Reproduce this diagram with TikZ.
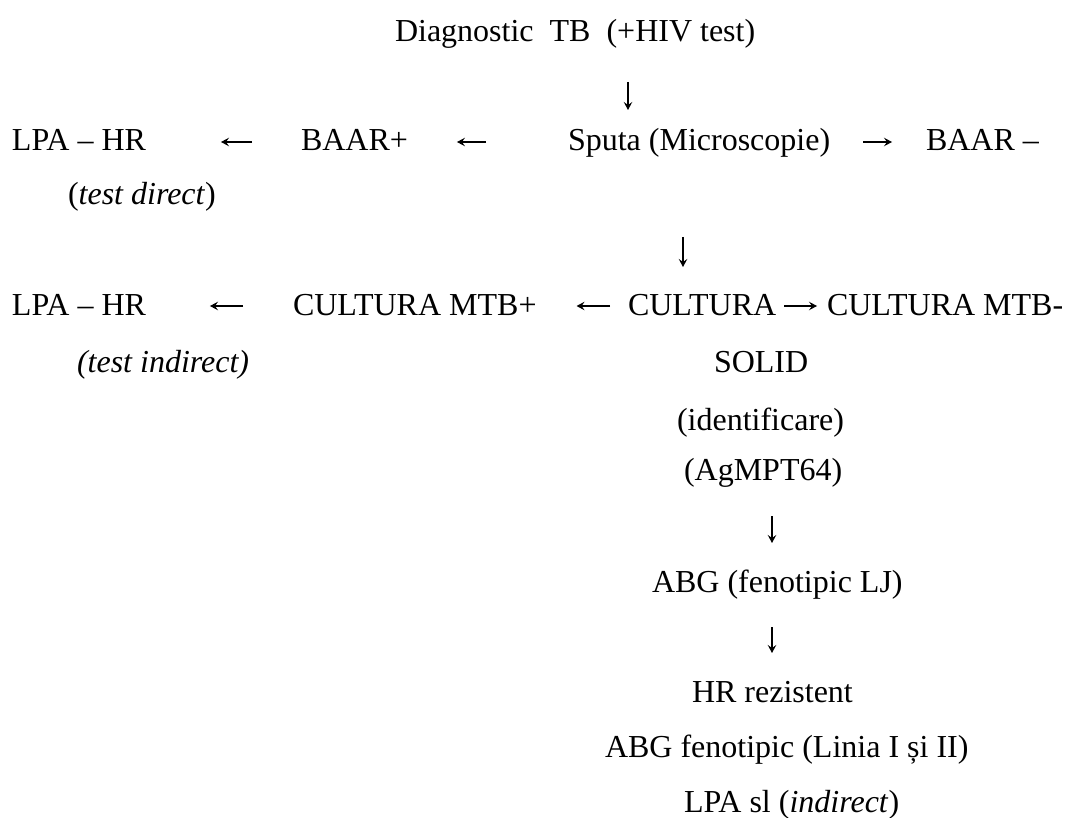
\documentclass[tikz,border=0pt]{standalone}
\usepackage{fontspec}
\setmainfont{Liberation Serif}
\usetikzlibrary{arrows.meta}
\tikzset{
  lbl/.style={anchor=base west, inner sep=0pt, outer sep=0pt, font=\fontsize{32}{38}\selectfont},
  arr/.style={-{Stealth[length=8pt,width=8.5pt,inset=3pt]}, line width=1.2pt}
}
\begin{document}
\begin{tikzpicture}[x=1pt,y=-1pt]
\fill[white] (0,0) rectangle (1065,818);
\useasboundingbox (0,0) rectangle (1065,818);
% text nodes
\node[lbl] (diag)   at (395,42)  {Diagnostic\ \ TB\ \ (+HIV test)};
\node[lbl] (lpa1)   at (12,151)  {LPA – HR};
\node[lbl] (bplus)  at (301,151) {BAAR+};
\node[lbl] (sputa)  at (568,151) {Sputa (Microscopie)};
\node[lbl] (bminus) at (926,151) {BAAR –};
\node[lbl] (tdir)   at (68,205)  {(\textit{test direct})};
\node[lbl] (lpa2)   at (12,315)  {LPA – HR};
\node[lbl] (cplus)  at (293,315) {CULTURA MTB+};
\node[lbl] (cult)   at (628,315) {CULTURA};
\node[lbl] (cminus) at (827,315) {CULTURA MTB-};
\node[lbl] (tind)   at (77,372)  {\textit{(test indirect)}};
\node[lbl] (solid)  at (714,372) {SOLID};
\node[lbl] (ident)  at (677,430) {(identificare)};
\node[lbl] (ag)     at (684,480) {(AgMPT64)};
\node[lbl] (abga)   at (652,592) {ABG (fenotipic LJ)};
\node[lbl] (hr)     at (692,702) {HR rezistent};
\node[lbl] (abgb)   at (605,757) {ABG fenotipic (Linia I și II)};
\node[lbl] (lpasl)  at (684,812) {LPA sl (\textit{indirect})};
% x positions of vertical connectors
\coordinate (vx1) at (628,0);
\coordinate (vx2) at (683,0);
\coordinate (vx3) at (772,0);
% vertical connectors
\draw[arr, shorten <=40pt, shorten >=41pt] (vx1 |- diag.base) -- (vx1 |- sputa.base);
\draw[arr, shorten <=86pt, shorten >=48pt] (vx2 |- sputa.base) -- (vx2 |- cult.base);
\draw[arr, shorten <=36pt, shorten >=49pt] (vx3 |- ag.base) -- (vx3 |- abga.base);
\draw[arr, shorten <=35pt, shorten >=49pt] (vx3 |- abga.base) -- (vx3 |- hr.base);
% horizontal connectors, row 2
\draw[arr, shorten <=49pt, shorten >=75pt] ([yshift=9pt]bplus.base west) -- ([yshift=9pt]lpa1.base east);
\draw[arr, shorten <=82pt, shorten >=49pt] ([yshift=9pt]sputa.base west) -- ([yshift=9pt]bplus.base east);
\draw[arr, shorten <=33pt, shorten >=34pt] ([yshift=9pt]sputa.base east) -- ([yshift=9pt]bminus.base west);
% horizontal connectors, row 3
\draw[arr, shorten <=50pt, shorten >=64pt] ([yshift=9pt]cplus.base west) -- ([yshift=9pt]lpa2.base east);
\draw[arr, shorten <=18pt, shorten >=40pt] ([yshift=9pt]cult.base west) -- ([yshift=9pt]cplus.base east);
\draw[arr, shorten <=8pt, shorten >=10pt] ([yshift=9pt]cult.base east) -- ([yshift=9pt]cminus.base west);
\end{tikzpicture}
\end{document}
